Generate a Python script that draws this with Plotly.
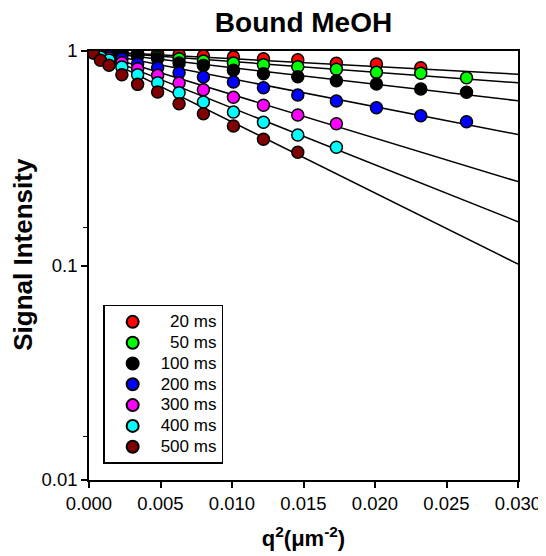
import plotly.graph_objects as go

# q^2 values (um^-2)
q2 = [0.0, 0.0003, 0.0008, 0.0014, 0.0023, 0.0034, 0.0048, 0.0063, 0.0080,
      0.0101, 0.0122, 0.0146, 0.0173, 0.0201, 0.0232, 0.0264]

labels = ["20 ms", "50 ms", "100 ms", "200 ms", "300 ms", "400 ms", "500 ms"]
colors = ["#FF0000", "#00FF00", "#000000", "#0000FF", "#FF00FF", "#00FFFF", "#800000"]

s20 = [1.0, 1.0, 0.995, 0.99, 0.985, 0.975, 0.97, 0.961, 0.948, 0.938, 0.92, 0.911, 0.876, 0.87, 0.835]
s50 = [1.0, 1.01, 1.02, 1.01, 0.979, 0.955, 0.938, 0.921, 0.898, 0.879, 0.863, 0.845, 0.822, 0.795, 0.787, 0.751]
s100 = [1.0, 1.0, 0.985, 0.975, 0.96, 0.945, 0.92, 0.879, 0.857, 0.813, 0.784, 0.759, 0.727, 0.702, 0.665, 0.642]
s200 = [1.0, 0.99, 0.968, 0.948, 0.92, 0.873, 0.836, 0.792, 0.757, 0.717, 0.674, 0.624, 0.585, 0.544, 0.499, 0.468]
s300 = [1.0, 0.985, 0.953, 0.927, 0.882, 0.827, 0.77, 0.709, 0.66, 0.608, 0.559, 0.503, 0.458]
s400 = [1.0, 0.98, 0.938, 0.908, 0.842, 0.775, 0.711, 0.639, 0.578, 0.519, 0.465, 0.406, 0.356]
s500 = [1.0, 0.982, 0.905, 0.858, 0.775, 0.699, 0.644, 0.568, 0.51, 0.447, 0.388, 0.337]
series = [s20, s50, s100, s200, s300, s400, s500]

# fitted lines: intercept at q2=0 and value at q2=0.030
fit_x = [0.0, 0.030]
fit_start = [1.0, 1.0, 1.0, 1.0, 1.0, 1.0, 1.0]
fit_end = [0.779, 0.711, 0.586, 0.408, 0.246, 0.160, 0.1016]

x_ticks = [0.000, 0.005, 0.010, 0.015, 0.020, 0.025, 0.030]
x_ticktext = ["0.000", "0.005", "0.010", "0.015", "0.020", "0.025", "0.030"]
y_ticks = [0.01, 0.1, 1]
y_ticktext = ["0.01", "0.1", "1"]
y_minor = [0.016, 0.15]

FONT = "Arial, Liberation Sans, sans-serif"

fig = go.Figure()

for i in range(len(series)):
    fig.add_trace(go.Scatter(
        x=fit_x, y=[fit_start[i], fit_end[i]], mode="lines",
        line=dict(color="black", width=1.5), showlegend=False, hoverinfo="skip"))

for i, s in enumerate(series):
    pad = "\u00a0\u00a0" if len(labels[i]) == 5 else ""
    fig.add_trace(go.Scatter(
        x=q2[:len(s)], y=s, mode="markers",
        name='<span style="font-size:17px">' + pad + labels[i] + "</span>",
        marker=dict(size=12, color=colors[i], line=dict(color="black", width=1.5))))

# the page body has an 8px margin, so the figure is 8px smaller and margins compensate
fig.update_layout(
    width=538, height=548,
    margin=dict(l=81, r=28, t=43, b=76, autoexpand=False),
    paper_bgcolor="white", plot_bgcolor="white",
    font=dict(family=FONT, color="black", size=18),
    title=dict(text="<b>Bound MeOH</b>", xref="paper", x=0.5, xanchor="center",
               yref="container", y=1 - 14 / 548, yanchor="middle",
               font=dict(size=28, family=FONT)),
    showlegend=True,
    legend=dict(x=0.033, y=0.408, xanchor="left", yanchor="top",
                bgcolor="white", bordercolor="black", borderwidth=1.5,
                font=dict(size=13.7, family=FONT), itemsizing="constant",
                itemwidth=46, traceorder="normal"),
)

fig.update_xaxes(
    range=[0, 0.030], tickvals=x_ticks, ticktext=x_ticktext, automargin=False,
    ticks="outside", ticklen=6, tickwidth=1.5, tickcolor="black",
    showline=True, linecolor="black", linewidth=1.5, mirror=True,
    showgrid=False, zeroline=False,
    tickfont=dict(size=18.5, family=FONT),
    title=dict(text="<b>q<sup>2</sup>(\u03bcm<sup>-2</sup>)</b>", font=dict(size=22, family=FONT), standoff=18),
)
fig.update_yaxes(
    type="log", range=[-2, 0], tickvals=y_ticks, ticktext=y_ticktext, automargin=False,
    ticks="outside", ticklen=6, tickwidth=1.5, tickcolor="black",
    showline=True, linecolor="black", linewidth=1.5, mirror=True,
    showgrid=False, zeroline=False,
    tickfont=dict(size=18.5, family=FONT),
    minor=dict(tickvals=y_minor, ticks="outside", ticklen=4, tickwidth=1.2, tickcolor="black", showgrid=False),
    title=dict(text="<b>\u00a0\u00a0\u00a0Signal Intensity</b>", font=dict(size=26, family=FONT), standoff=8),
)

fig.write_html("out.html")
